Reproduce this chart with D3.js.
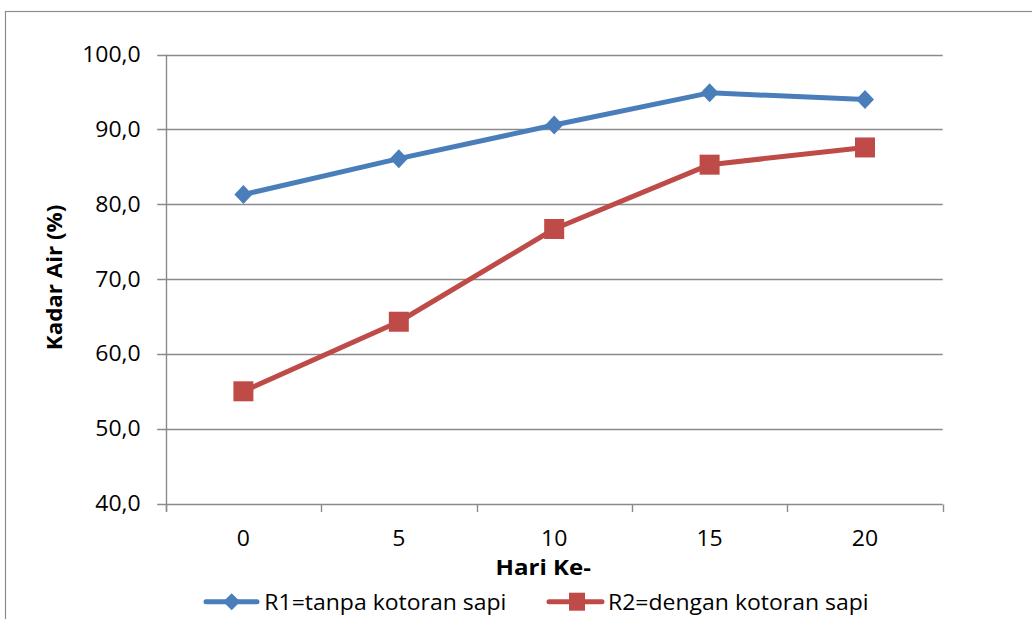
<!DOCTYPE html>
<html>
<head>
<meta charset="utf-8">
<script src="https://cdn.jsdelivr.net/npm/d3@7"></script>
<style>
  html, body { margin: 0; padding: 0; background: #fff; }
  svg { display: block; }
  text { font-family: "Open Sans", Lato, sans-serif; fill: #000; }
</style>
</head>
<body>
<script>
// Moisture content (%) over composting days
const days = ["0", "5", "10", "15", "20"];
const r1Values = [81.3, 86.1, 90.6, 94.9, 94.0];
const r2Values = [55.0, 64.3, 76.7, 85.3, 87.6];
const yTicks = [40, 50, 60, 70, 80, 90, 100];
const seriesNames = ["R1=tanpa kotoran sapi", "R2=dengan kotoran sapi"];
const xTitle = "Hari Ke-";
const yTitle = "Kadar Air (%)";

const W = 1032, H = 619;
const plot = { left: 165.7, right: 942.7, top: 54.7, bottom: 503.5 };
const blue = "#4A7EBB", red = "#BE4B48", gridColor = "#8a8a8a";
const FS = 21.5;     // font size
const SX = 1.07;     // horizontal glyph stretch

const svg = d3.select("body").append("svg").attr("width", W).attr("height", H);

// chart frame
svg.append("rect")
  .attr("x", 5.5).attr("y", 11.5).attr("width", 1040).attr("height", 700)
  .attr("fill", "#fff").attr("stroke", "#8c8c8c").attr("stroke-width", 1.2);

const x = d3.scaleBand().domain(days).range([plot.left, plot.right]);
const y = d3.scaleLinear().domain([40, 100]).range([plot.bottom, plot.top]);

function label(g, px, py, str, opts = {}) {
  return g.append("text")
    .attr("transform", `translate(${px},${py}) rotate(${opts.rotate || 0}) scale(${opts.sx || SX},1)`)
    .attr("text-anchor", opts.anchor || "start")
    .attr("font-size", FS)
    .attr("font-weight", opts.weight || "normal")
    .text(str);
}

// horizontal gridlines with left ticks
const grid = svg.append("g");
grid.selectAll("line.grid").data(yTicks).join("line")
  .attr("x1", plot.left - 8.5).attr("x2", plot.right)
  .attr("y1", d => Math.round(y(d)) + 0.5).attr("y2", d => Math.round(y(d)) + 0.5)
  .attr("stroke", gridColor).attr("stroke-width", 1.4);

// y axis line
grid.append("line")
  .attr("x1", Math.round(plot.left) + 0.5).attr("x2", Math.round(plot.left) + 0.5)
  .attr("y1", plot.top).attr("y2", plot.bottom + 8)
  .attr("stroke", gridColor).attr("stroke-width", 1.4);

// x category boundary ticks
const bounds = days.map(d => x(d)).concat([plot.right]);
grid.selectAll("line.xt").data(bounds).join("line")
  .attr("x1", d => Math.round(d) + 0.5).attr("x2", d => Math.round(d) + 0.5)
  .attr("y1", Math.round(plot.bottom) + 0.5).attr("y2", plot.bottom + 8.5)
  .attr("stroke", gridColor).attr("stroke-width", 1.4);

// y tick labels
yTicks.forEach(v => label(svg, 140.7, y(v) + 7.5, d3.format(".1f")(v).replace(".", ","), { anchor: "end" }));

// x tick labels
days.forEach(d => label(svg, x(d) + x.bandwidth() / 2, 546, d, { anchor: "middle" }));

// axis titles
label(svg, 543.3, 574.5, xTitle, { anchor: "middle", weight: "bold", sx: 1.12 });
label(svg, 62, 277.5, yTitle, { anchor: "middle", weight: "bold", sx: 1.04, rotate: -90 });

const cx = (d, i) => x(days[i]) + x.bandwidth() / 2;
const line = d3.line().x((d, i) => cx(d, i)).y(d => y(d));

// rhombus marker of half-width w and half-height h
const rhombus = (w, h) => `M0,${-h}L${w},0L0,${h}L${-w},0Z`;

// R1 series
svg.append("path").datum(r1Values).attr("d", line)
  .attr("fill", "none").attr("stroke", blue).attr("stroke-width", 5).attr("stroke-linejoin", "round");
svg.selectAll("path.r1").data(r1Values).join("path")
  .attr("d", rhombus(9, 9.5))
  .attr("transform", (d, i) => `translate(${cx(d, i)},${y(d)})`)
  .attr("fill", blue);

// R2 series
svg.append("path").datum(r2Values).attr("d", line)
  .attr("fill", "none").attr("stroke", red).attr("stroke-width", 5).attr("stroke-linejoin", "round");
svg.selectAll("rect.r2").data(r2Values).join("rect")
  .attr("x", (d, i) => cx(d, i) - 10).attr("y", d => y(d) - 10)
  .attr("width", 20).attr("height", 20)
  .attr("fill", red);

// legend
const legendY = 601.7;
const leg = svg.append("g");
leg.append("line").attr("x1", 206).attr("x2", 257).attr("y1", legendY).attr("y2", legendY)
  .attr("stroke", blue).attr("stroke-width", 5).attr("stroke-linecap", "round");
leg.append("path").attr("d", rhombus(8.5, 8.5))
  .attr("transform", `translate(231.7,${legendY})`).attr("fill", blue);
label(leg, 264.3, 609.5, seriesNames[0]);

leg.append("line").attr("x1", 549).attr("x2", 602).attr("y1", legendY).attr("y2", legendY)
  .attr("stroke", red).attr("stroke-width", 5).attr("stroke-linecap", "round");
leg.append("rect").attr("x", 569).attr("y", legendY - 9).attr("width", 16).attr("height", 18)
  .attr("fill", red);
label(leg, 608, 609.5, seriesNames[1]);
</script>
</body>
</html>
